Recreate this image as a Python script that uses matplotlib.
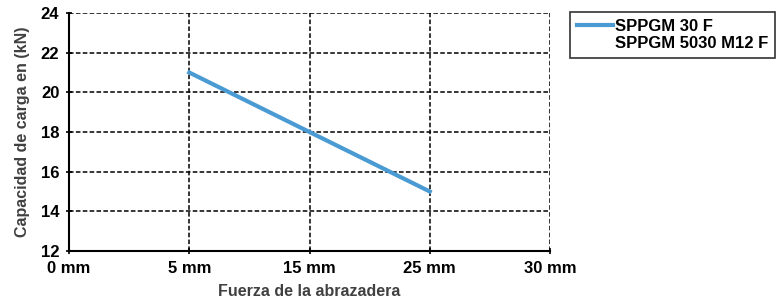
import matplotlib
matplotlib.use("Agg")
import matplotlib.pyplot as plt
from matplotlib.lines import Line2D

categories = ["0 mm", "5 mm", "15 mm", "25 mm", "30 mm"]
series_x = ["5 mm", "15 mm", "25 mm"]
series_y = [21, 18, 15]
series_label_1 = "SPPGM 30 F"
series_label_2 = "SPPGM 5030 M12 F"
yticks = [12, 14, 16, 18, 20, 22, 24]

plt.rcParams['font.family'] = ['Liberation Sans', 'DejaVu Sans']
plt.rcParams['font.weight'] = 'bold'

fig = plt.figure(figsize=(7.78, 3.02), dpi=100)
ax = fig.add_axes([69/778, 1-251/302, (550-69)/778, (251-13)/302])

pos = {c: i for i, c in enumerate(categories)}
xs = [pos[c] for c in series_x]
line, = ax.plot(xs, series_y, color='#4a9bd3', lw=3, zorder=3)

ax.set_xlim(0, len(categories)-1)
ax.set_ylim(12, 24)
ax.set_xticks(range(len(categories)))
ax.set_xticklabels(categories)
ax.set_yticks(yticks)
ax.tick_params(axis='both', labelsize=12, width=1.2, length=4, direction='inout', colors='black', pad=5)
for lab in ax.get_xticklabels() + ax.get_yticklabels():
    lab.set_fontweight('bold')
ax.grid(True, color='black', linestyle=(0, (3, 1.5)), lw=1.1)
ax.spines['top'].set_visible(False)
ax.spines['right'].set_visible(False)
ax.spines['left'].set_linewidth(1.5)
ax.spines['bottom'].set_linewidth(1.5)

ax.set_xlabel("Fuerza de la abrazadera", fontsize=11.5, fontweight='bold', color='#404040', labelpad=6)
ax.set_ylabel("Capacidad de carga en (kN)", fontsize=11.5, fontweight='bold', color='#404040', labelpad=8)

blank = Line2D([], [], color='none')
leg = fig.legend([line, blank], [series_label_1, series_label_2], loc='upper left',
                 bbox_to_anchor=(570/778, 1-12/302), frameon=True,
                 fancybox=False, edgecolor='black', prop={'weight': 'bold', 'size': 12},
                 handlelength=2.2, handletextpad=0.1, borderpad=0.4, borderaxespad=0,
                 labelspacing=0.15)
leg.get_frame().set_linewidth(1.2)

fig.savefig("out.png", dpi=100)
